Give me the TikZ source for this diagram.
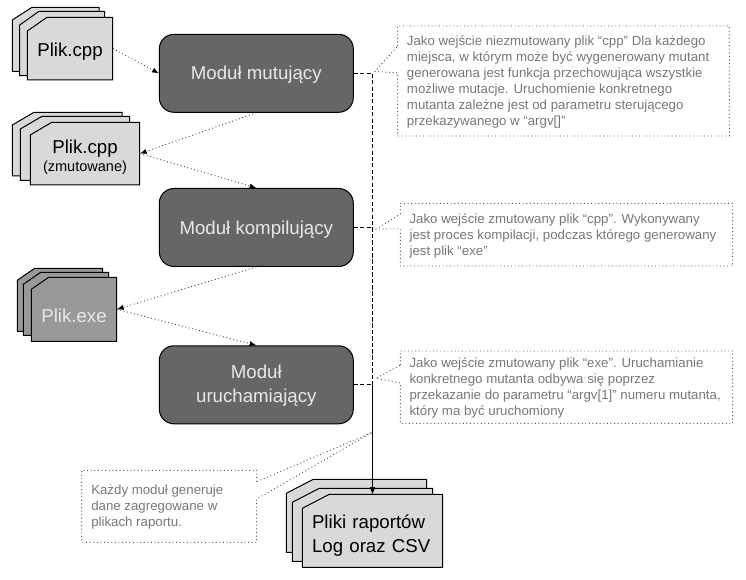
\documentclass[tikz,border=0pt]{standalone}
\usepackage{fontspec}
\setmainfont{Liberation Sans}
\usetikzlibrary{arrows.meta}
\definecolor{modfill}{HTML}{666666}
\definecolor{modtext}{HTML}{E8E8E8}
\definecolor{docfill}{HTML}{D9D9D9}
\definecolor{exefill}{HTML}{999999}
\definecolor{notetext}{HTML}{777777}
\definecolor{noteline}{HTML}{555555}
\newcommand{\bigtext}{\fontsize{14}{18}\selectfont}
\newcommand{\notetextsize}{\fontsize{9.95}{12}\selectfont}
\newcommand{\sheet}[7]{\draw[sheetline,fill=#7] (#1,#6) -- (#5,#2) -- (#3,#2) -- (#3,#4) -- (#1,#4) -- cycle;}
\tikzset{
  module/.style={draw=black,line width=0.75pt,fill=modfill,rounded corners=11pt,text=modtext,
    minimum width=145.5pt,minimum height=58.5pt,align=center,font=\bigtext,inner sep=0pt,text height=10pt,text depth=0pt},
  sheetline/.style={draw=black,line width=0.75pt,line join=miter},
  docbox/.style={inner sep=0pt,align=center,font=\bigtext},
  notebody/.style={anchor=west,inner sep=0pt,align=left,text=notetext,font=\notetextsize},
  noteedge/.style={draw=noteline,line width=0.7pt,dotted},
  flow/.style={draw=black!80,line width=0.65pt,dotted,-{Latex[length=5pt,width=4pt,color=black]}},
  bus/.style={draw=black,line width=0.7pt,dash pattern=on 3pt off 1.8pt,-{Latex[length=5pt,width=4pt]}}
}
\begin{document}
\begin{tikzpicture}[x=0.75pt,y=-0.75pt]
\useasboundingbox (0,0) rectangle (746,580);
% document stacks
\sheet{12.3}{7.3}{99}{71.3}{32}{20}{docfill}
\sheet{19.7}{11.3}{104.7}{75.7}{39}{25}{docfill}
\sheet{27.3}{17.3}{112.7}{80}{47}{31}{docfill}
\node[docbox,minimum width=64pt,minimum height=47pt,text height=12pt,text depth=0pt] (d1) at (70,48.6) {Plik.cpp};
\sheet{12.3}{112.3}{122}{176}{34}{125}{docfill}
\sheet{20.3}{116.3}{129.7}{180.3}{42}{129}{docfill}
\sheet{30.3}{122.3}{139.7}{185}{51.7}{135}{docfill}
\node[docbox,minimum width=82pt,minimum height=47pt,text height=27.2pt,text depth=0pt] (d2) at (85,153.6) {Plik.cpp\\[-4.5pt]{\fontsize{10.9}{12}\selectfont (zmutowane)}};
\sheet{17.3}{268.3}{102.7}{331.3}{34.7}{280.3}{exefill}
\sheet{23.3}{272.3}{108.7}{335.3}{40.7}{284.3}{exefill}
\sheet{31.3}{277.3}{116.7}{341.3}{48.7}{289.3}{exefill}
\node[docbox,minimum width=64pt,minimum height=48pt,text=modtext,text height=20pt,text depth=0pt] (d3) at (74,309.3) {Plik.exe};
\sheet{286.3}{479.3}{426.7}{552.3}{313.3}{493.3}{docfill}
\sheet{292.3}{488.3}{432.7}{561.3}{319.3}{502.3}{docfill}
\sheet{302.3}{494.3}{442.7}{567.3}{329.3}{508.3}{docfill}
\node[docbox,align=left,text width=90.7pt,inner xsep=7.3pt,minimum height=54.75pt,text height=10pt,text depth=13.2pt] (d4) at (372.5,530.8) {\fontsize{14}{15}\selectfont Pliki raportów\\Log oraz CSV};
% modules
\node[module] (m1) at (256.3,73.3) {Moduł mutujący};
\node[module] (m2) at (256.3,227.5) {Moduł kompilujący};
\node[module,text height=27.3pt,text depth=0pt] (m3) at (256.3,384.8) {Moduł\\uruchamiający};
% notes
\coordinate (t1) at (375,71.5);
\coordinate (t2) at (376,229);
\coordinate (t3) at (376,378.3);
\coordinate (t4) at (372.3,432.3);
\draw[noteedge] (397.7,46) -- (397.7,26) -- (729.3,26) -- (729.3,136) -- (397.7,136) -- (397.7,73) -- (t1) -- cycle;
\draw[noteedge] (400.3,214) -- (400.3,203.3) -- (732.7,203.3) -- (732.7,266) -- (400.3,266) -- (400.3,229) -- (t2) -- cycle;
\draw[noteedge] (400.3,365) -- (400.3,351) -- (732.7,351) -- (732.7,423.3) -- (400.3,423.3) -- (400.3,383) -- (t3) -- cycle;
\draw[noteedge] (256.7,481.7) -- (256.7,470.3) -- (81.7,470.3) -- (81.7,542.3) -- (256.7,542.3) -- (256.7,499) -- (t4) -- cycle;
\node[notebody] (n1) at (406.7,82) {Jako wejście niezmutowany plik “cpp” Dla każdego\\miejsca, w którym może być wygenerowany mutant\\generowana jest funkcja przechowująca wszystkie\\możliwe mutacje. Uruchomienie konkretnego\\mutanta zależne jest od parametru sterującego\\przekazywanego w “argv[]”};
\node[notebody] (n2) at (409.3,236) {Jako wejście zmutowany plik “cpp”. Wykonywany\\jest proces kompilacji, podczas którego generowany\\jest plik “exe”};
\node[notebody] (n3) at (409.3,388) {Jako wejście zmutowany plik “exe”. Uruchamianie\\konkretnego mutanta odbywa się poprzez\\przekazanie do parametru “argv[1]” numeru mutanta,\\który ma być uruchomiony};
\node[notebody] (n4) at (91,506.7) {Każdy moduł generuje\\dane zagregowane w\\plikach raportu.};
% connectors
\draw[flow] (d1.east) -- (m1.west);
\draw[flow] (m1.south) -- (d2.east);
\draw[flow] (d2.east) -- (m2.north);
\draw[flow] (m2.south) -- (d3.east);
\draw[flow] (d3.east) -- (m3.north);
\draw[bus] (m1.east) -| (d4.north);
\draw[bus] (m2.east) -| (d4.north);
\draw[bus] (m3.east) -| (d4.north);
\end{tikzpicture}
\end{document}
